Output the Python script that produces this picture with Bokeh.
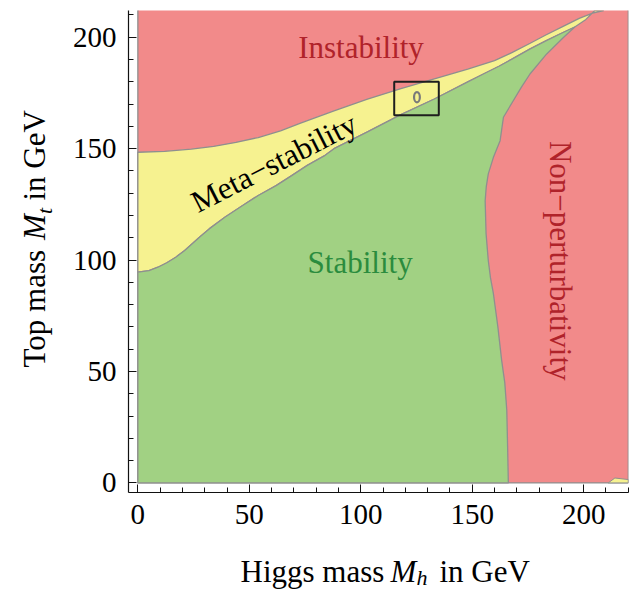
import math
from bokeh.plotting import figure
from bokeh.layouts import row, column
from bokeh.models import Range1d, SingleIntervalTicker, LinearAxis, Label
from bokeh.embed import file_html
from bokeh.resources import INLINE

# ---- data (GeV) ----
# instability / meta-stability boundary
inst_mh = [0, 12, 24, 34, 44, 54, 64, 73, 88, 103, 118, 133, 148, 160, 168, 176, 183, 191, 198, 204, 209]
inst_mt = [148.4, 148.8, 149.8, 151.0, 152.8, 155.0, 158.0, 161.5, 167.0, 172.2, 176.9, 181.3, 185.7,
           189.5, 193.2, 197.3, 201.0, 205.0, 208.5, 210.8, 212.0]
# meta-stability / stability boundary
stab_mh = [0, 5, 9, 13, 17, 21, 24, 28, 32, 39, 47, 54, 62, 69, 76, 84, 88, 103, 118, 133, 148,
           155, 162, 168, 176, 183, 190, 196, 201, 205]
stab_mt = [94.6, 95.3, 96.8, 98.8, 101.3, 104.3, 107.0, 110.6, 114.0, 119.2, 124.5, 129.0, 133.4,
           137.9, 142.5, 147.0, 150.0, 157.5, 165.3, 172.3, 180.0, 183.5, 187.0, 190.3, 194.8,
           198.4, 201.8, 204.6, 208.0, 212.0]
# non-perturbativity boundary
pert_mh = [166.2, 165.9, 165.5, 164.6, 163.2, 161.5, 159.5, 158.2, 157.2, 156.2, 155.8, 156.3,
           157.2, 159.5, 162.5, 164.0, 168.4, 172.0, 175.9, 183.4, 190.9, 196.0]
pert_mt = [0, 15, 32.6, 45, 55, 70, 84.9, 92, 99.8, 112, 126.6, 133, 138.7, 146.1, 153.6, 164.1,
           171.5, 177.5, 183.5, 192.5, 199.9, 204.6]
# small meta-stable patch at the bottom right
patch_mh = [211, 220, 220, 214]
patch_mt = [0, 0, 1.5, 2.2]
# extent of the scan
scan_mh = [0, 220]
scan_mt = [0, 240]
# measured point and zoom box
meas_mh = [125.2]
meas_mt = [173.1]
meas_w = [2.6]
meas_h = [4.6]
box_mh = [115, 135]
box_mt = [165, 180]

RED = "#f28a8a"
YEL = "#f6f290"
GRN = "#a1d183"
EDGE = "#8f8f8f"
FONT = "Liberation Serif"

# ---------------- main plot ----------------
p = figure(width=573, height=545, output_backend="svg", toolbar_location=None,
           x_range=Range1d(-4.2, 220.1), y_range=Range1d(-4.3, 212.0),
           x_axis_type=None, y_axis_type=None,
           min_border_left=68, min_border_right=5, min_border_top=10, min_border_bottom=53)
p.xgrid.visible = False
p.ygrid.visible = False
p.outline_line_color = None
p.background_fill_color = "white"
p.border_fill_color = "white"

p.quad(left=[scan_mh[0]], right=[scan_mh[1]], bottom=[scan_mt[0]], top=[scan_mt[1]],
       fill_color=RED, line_color=EDGE, line_width=1.3)

yel_x = stab_mh + inst_mh[::-1]
yel_y = stab_mt + inst_mt[::-1]
p.patch(yel_x, yel_y, fill_color=YEL, line_color=EDGE, line_width=1.3)

apex = pert_mh[-1]
g_x = [0] + [x for x in stab_mh if x <= apex] + pert_mh[::-1]
g_y = [0] + [y for x, y in zip(stab_mh, stab_mt) if x <= apex] + pert_mt[::-1]
p.patch(g_x, g_y, fill_color=GRN, line_color=EDGE, line_width=1.3)

p.patch(patch_mh, patch_mt, fill_color=YEL, line_color=EDGE, line_width=1)

p.ellipse(x=meas_mh, y=meas_mt, width=meas_w, height=meas_h, fill_color=None,
          line_color="#7a7a7a", line_width=2.2)
p.quad(left=[box_mh[0]], right=[box_mh[1]], bottom=[box_mt[0]], top=[box_mt[1]],
       fill_color=None, line_color="#1e1e1e", line_width=2)

def lab(fig, x, y, t, color="black", angle=0.0, size="31px", style="normal", align="center",
        units="data"):
    fig.add_layout(Label(x=x, y=y, x_units=units, y_units=units, text=t, angle=angle,
                         text_color=color, text_font=FONT, text_font_size=size,
                         text_font_style=style, text_align=align, text_baseline="alphabetic"))

lab(p, 100.1, 195.2, "Instability", "#b0232a")
lab(p, 61.0, 143.7, "Meta\u2212stability", "#000000", angle=0.471)
lab(p, 99.7, 99.1, "Stability", "#2b8c3e")
lab(p, 189.6, 99.7, "Non\u2212perturbativity", "#b0232a", angle=-math.pi / 2)

def mk_axis(ticker):
    ax = LinearAxis(ticker=ticker)
    ax.axis_line_color = "#111111"
    ax.axis_line_width = 1.2
    ax.major_tick_line_color = "#111111"
    ax.minor_tick_line_color = "#111111"
    ax.major_tick_in = 8
    ax.major_tick_out = 0
    ax.minor_tick_in = 5
    ax.minor_tick_out = 0
    ax.major_label_text_font = FONT
    ax.major_label_text_font_size = "29px"
    ax.major_label_text_color = "black"
    ax.major_label_standoff = 12
    return ax

p.add_layout(mk_axis(SingleIntervalTicker(interval=50, num_minor_ticks=5)), "below")
p.add_layout(mk_axis(SingleIntervalTicker(interval=50, num_minor_ticks=5)), "left")

# ---------------- axis titles (separate text panels) ----------------
def blank(w, h, left, right, top, bottom):
    f = figure(width=w, height=h, output_backend="svg", toolbar_location=None,
               x_range=Range1d(0, 1), y_range=Range1d(0, 1), x_axis_type=None, y_axis_type=None,
               min_border_left=left, min_border_right=right, min_border_top=top,
               min_border_bottom=bottom)
    f.xgrid.visible = False
    f.ygrid.visible = False
    f.outline_line_color = None
    f.background_fill_color = "white"
    f.border_fill_color = "white"
    return f

# bottom title panel: frame spans page x 128..628, page y 545..590
bx = blank(573, 45, 68, 5, 0, 0)
X0, Y0 = 128, 590
def bpiece(px, py, t, **kw):
    lab(bx, px - X0, Y0 - py, t, align="left", units="screen", **kw)
bpiece(240, 571.0, "Higgs mass")
bpiece(390, 571.0, "M", style="italic")
bpiece(416, 577.0, "h", size="22px", style="italic")
bpiece(439, 571.0, "in GeV")

# left title panel: frame spans page x 0..60, page y 0..590
a = math.pi / 2
ly = blank(60, 590, 0, 0, 0, 0)
def lpiece(px, py, t, **kw):
    lab(ly, px, 590 - py, t, angle=a, align="left", units="screen", **kw)
lpiece(34, 367, "Top mass")
lpiece(34, 239.5, "M", style="italic")
lpiece(43.5, 213.5, "t", size="22px", style="italic")
lpiece(34, 200, "in GeV")

layout = row(ly, column(p, bx, spacing=0), spacing=0)
open("out.html", "w").write(file_html(layout, INLINE))
